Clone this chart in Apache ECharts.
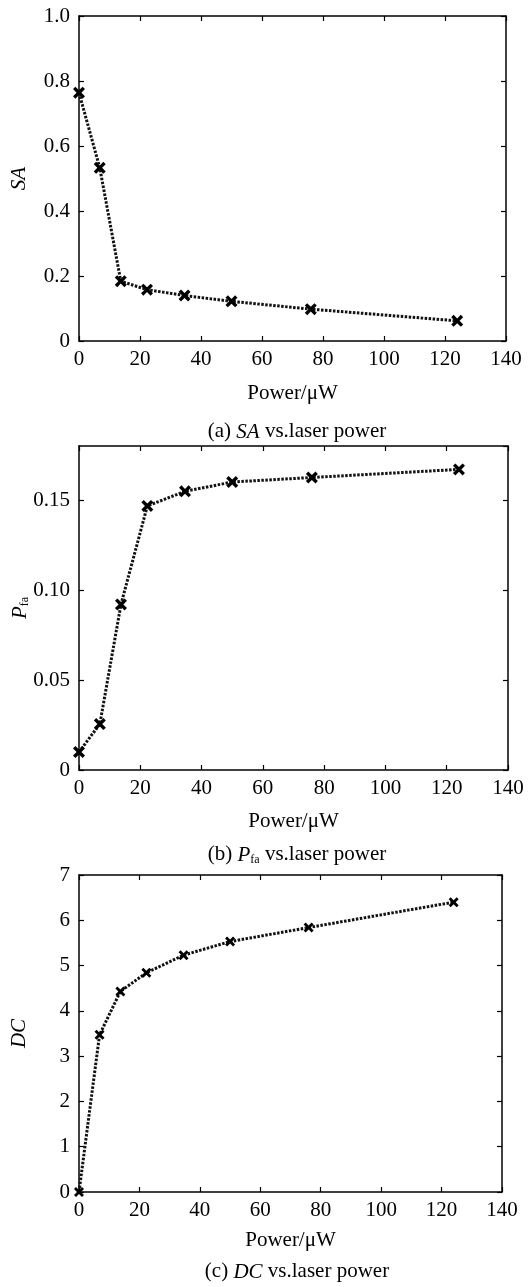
<!DOCTYPE html>
<html>
<head>
<meta charset="utf-8">
<script src="https://cdn.jsdelivr.net/npm/echarts@6/dist/echarts.min.js"></script>
<style>
  html, body { margin: 0; padding: 0; background: #fff; }
  #main { width: 532px; height: 1287px; }
</style>
</head>
<body>
<div id="main"></div>
<script>
// laser power (uW), shared by the three panels
var power = [0, 6.8, 13.7, 22.3, 34.6, 50, 76, 124];
// (a) SA
var saValues = [0.764, 0.533, 0.184, 0.158, 0.140, 0.122, 0.098, 0.062];
// (b) Pfa
var pfaValues = [0.010, 0.0255, 0.092, 0.1467, 0.1548, 0.160, 0.1625, 0.167];
// (c) DC
var dcValues = [0, 3.47, 4.43, 4.84, 5.23, 5.53, 5.84, 6.40];

var xTicks = [0, 20, 40, 60, 80, 100, 120, 140];
var captions = ['(a) {i|SA} vs.laser power', '(b) {i|P}{s|fa} vs.laser power', '(c) {i|DC} vs.laser power'];

var FONT = '"Liberation Serif", "DejaVu Serif", serif';
var crossMark = 'path://M0,2L2,0L5,3L8,0L10,2L7,5L10,8L8,10L5,7L2,10L0,8L3,5Z';

var chart = echarts.init(document.getElementById('main'));

var grids = [
  { left: 79, top: 16, width: 427, height: 325, outerBoundsMode: 'none' },
  { left: 79, top: 446, width: 429, height: 324, outerBoundsMode: 'none' },
  { left: 79, top: 875, width: 423, height: 317, outerBoundsMode: 'none' }
];

var yConf = [
  { min: 0, max: 1.0, interval: 0.2, name: '{i|SA}', fmt: function (v) { return v === 0 ? '0' : v.toFixed(1); } },
  { min: 0, max: 0.18, interval: 0.05, name: '{i|P}{s|fa}', fmt: function (v) { return v === 0 ? '0' : v.toFixed(2); } },
  { min: 0, max: 7, interval: 1, name: '{i|DC}', fmt: function (v) { return String(v); } }
];
var nameGaps = [42, 41, 38];
var yNameGaps = [49, 48, 49];
var captionTops = [414, 837, 1254];
var seriesData = [saValues, pfaValues, dcValues];
var markSizes = [12, 12, 10];

var axisLine = { show: true, onZero: false, lineStyle: { color: '#000', width: 1.5 } };
var tickIn = { show: true, inside: true, length: 5, lineStyle: { color: '#000', width: 1.2 } };
var richStyles = {
  i: { fontFamily: FONT, fontSize: 21, fontStyle: 'italic', color: '#000', lineHeight: 24, verticalAlign: 'bottom' },
  s: { fontFamily: FONT, fontSize: 12, color: '#000', lineHeight: 24, verticalAlign: 'bottom' }
};

var xAxes = [], yAxes = [], series = [], titles = [];
for (var g = 0; g < 3; g++) {
  xAxes.push({
    type: 'value', gridIndex: g, min: 0, max: 140, interval: 20, position: 'bottom',
    name: 'Power/μW', nameLocation: 'middle', nameGap: nameGaps[g], nameMoveOverlap: false,
    nameTextStyle: { fontFamily: FONT, fontSize: 21, color: '#000' },
    axisLine: axisLine, axisTick: tickIn, splitLine: { show: false },
    axisLabel: { fontFamily: FONT, fontSize: 21, color: '#000', margin: 8,
      formatter: function (v) { return xTicks.indexOf(v) >= 0 ? String(v) : ''; } }
  });
  xAxes.push({
    type: 'value', gridIndex: g, min: 0, max: 140, interval: 20, position: 'top',
    axisLine: axisLine, axisTick: tickIn, axisLabel: { show: false }, splitLine: { show: false }
  });
  var yc = yConf[g];
  yAxes.push({
    type: 'value', gridIndex: g, min: yc.min, max: yc.max, interval: yc.interval, position: 'left',
    name: yc.name, nameLocation: 'middle', nameGap: yNameGaps[g], nameMoveOverlap: false,
    nameTextStyle: { fontFamily: FONT, fontSize: 21, color: '#000', rich: richStyles },
    axisLine: axisLine, axisTick: tickIn, splitLine: { show: false },
    axisLabel: { fontFamily: FONT, fontSize: 21, color: '#000', margin: 9, showMaxLabel: g !== 1, formatter: yc.fmt }
  });
  yAxes.push({
    type: 'value', gridIndex: g, min: yc.min, max: yc.max, interval: yc.interval, position: 'right',
    axisLine: axisLine, axisTick: tickIn, axisLabel: { show: false }, splitLine: { show: false }
  });
  series.push({
    type: 'line', xAxisIndex: g * 2, yAxisIndex: g * 2,
    data: power.map(function (p, k) { return [p, seriesData[g][k]]; }),
    symbol: crossMark, symbolSize: markSizes[g],
    itemStyle: { color: '#000' },
    lineStyle: { color: '#111', width: 3, type: [2.5, 1.5] },
    animation: false
  });
  titles.push({
    text: captions[g], left: 292, top: captionTops[g], textAlign: 'center',
    textStyle: { fontFamily: FONT, fontSize: 21, fontWeight: 'normal', color: '#000', rich: richStyles }
  });
}

chart.setOption({
  backgroundColor: '#fff',
  animation: false,
  title: titles,
  grid: grids,
  xAxis: xAxes,
  yAxis: yAxes,
  series: series
});
</script>
</body>
</html>
